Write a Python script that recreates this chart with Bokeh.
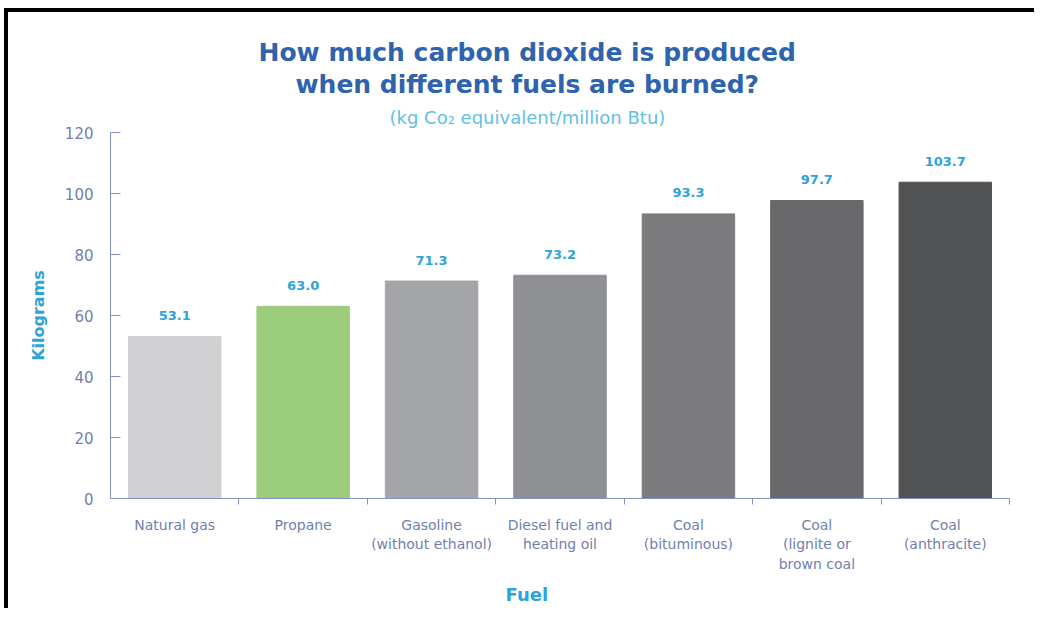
from bokeh.plotting import figure
from bokeh.models import Range1d, FixedTicker, ColumnDataSource, Title
from bokeh.core.properties import value
from bokeh.embed import file_html
from bokeh.resources import INLINE

# ---- data ----
fuels = ["Natural gas", "Propane", "Gasoline\n(without ethanol)", "Diesel fuel and\nheating oil",
         "Coal\n(bituminous)", "Coal\n(lignite or\nbrown coal", "Coal\n(anthracite)"]
co2 = [53.1, 63.0, 71.3, 73.2, 93.3, 97.7, 103.7]
value_labels = ["53.1", "63.0", "71.3", "73.2", "93.3", "97.7", "103.7"]
bar_colors = ["#d0d0d2", "#9bcd7c", "#a4a5a8", "#8f9093", "#7b7b7e", "#69696c", "#515254"]
y_ticks = [0, 20, 40, 60, 80, 100, 120]

title_lines = ["How much carbon dioxide is produced", "when different fuels are burned?"]
subtitle = "(kg Co\u2082 equivalent/million Btu)"
x_title = "Fuel"
y_title = "Kilograms"

FONT = "DejaVu Sans"
AXIS_COL = "#8193c2"
TICK_TXT = "#6f7fb0"
TITLE_COL = "#2f63ad"
ACCENT = "#2ea3da"

W, H = 1030, 600
MB_L, MB_R, MB_T, MB_B = 102, 29, 120, 114

n = len(fuels)
xs = list(range(n))
edges = [i + 0.5 for i in range(n)]

p = figure(width=W, height=H, x_range=Range1d(-0.5, n - 0.5), y_range=Range1d(0, 120),
           toolbar_location=None, output_backend="svg",
           min_border_left=MB_L, min_border_right=MB_R, min_border_top=MB_T, min_border_bottom=MB_B)
p.outline_line_color = None
p.grid.visible = False
p.styles = {"border-top": "4px solid black", "border-left": "4px solid black",
            "margin-left": "4px", "margin-top": "8px"}

src = ColumnDataSource(dict(x=xs, top=co2, color=bar_colors, lab=value_labels))
p.vbar(x="x", top="top", width=0.72, color="color", source=src)
p.text(x="x", y="top", text="lab", source=src, y_offset=-21, text_align="center",
       text_baseline="middle", text_font=value(FONT), text_font_style="bold",
       text_font_size="13px", text_color=ACCENT)

xa = p.xaxis[0]
xa.ticker = FixedTicker(ticks=xs, minor_ticks=edges)
xa.major_label_overrides = {i: f for i, f in zip(xs, fuels)}
xa.major_tick_line_color = None
xa.minor_tick_in = 0
xa.minor_tick_out = 6
xa.minor_tick_line_color = AXIS_COL
xa.axis_line_color = AXIS_COL
xa.major_label_standoff = 12
xa.major_label_text_font = FONT
xa.major_label_text_font_size = "14px"
xa.major_label_text_color = TICK_TXT
xa.major_label_text_line_height = 1.23

ya = p.yaxis[0]
ya.ticker = FixedTicker(ticks=y_ticks)
ya.axis_line_color = AXIS_COL
ya.major_tick_line_color = AXIS_COL
ya.major_tick_in = 10
ya.major_tick_out = 0
ya.minor_tick_line_color = None
ya.major_label_standoff = 17
ya.major_label_text_font = FONT
ya.major_label_text_font_size = "15px"
ya.major_label_text_color = TICK_TXT
ya.axis_label = y_title
ya.axis_label_text_font = FONT
ya.axis_label_text_font_style = "bold"
ya.axis_label_text_font_size = "16px"
ya.axis_label_text_color = ACCENT
ya.axis_label_standoff = 14

# titles: left-aligned titles offset so that each line is centred on the chart
p.add_layout(Title(text=subtitle, align="left", offset=279, standoff=10, text_font=FONT,
                   text_font_style="normal", text_font_size="18px", text_color="#62c0e3"), "above")
p.add_layout(Title(text=title_lines[1], align="left", offset=185, standoff=2, text_font=FONT,
                   text_font_style="bold", text_font_size="25px", text_color=TITLE_COL), "above")
p.add_layout(Title(text=title_lines[0], align="left", offset=148, standoff=0, text_font=FONT,
                   text_font_style="bold", text_font_size="25px", text_color=TITLE_COL), "above")
p.add_layout(Title(text=x_title, align="left", offset=395, standoff=14, text_font=FONT,
                   text_font_style="bold", text_font_size="18px", text_color=ACCENT), "below")

open("out.html", "w").write(file_html(p, INLINE))
